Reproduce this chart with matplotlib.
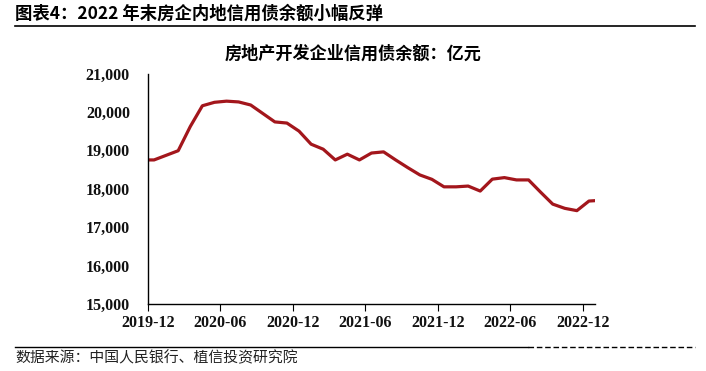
import matplotlib
matplotlib.use("Agg")
import matplotlib.pyplot as plt
from matplotlib.lines import Line2D

plt.rcParams['font.family'] = ['Liberation Serif', 'Noto Sans CJK SC', 'DejaVu Sans']

months = ["2019-11", "2019-12", "2020-01", "2020-02", "2020-03", "2020-04", "2020-05",
          "2020-06", "2020-07", "2020-08", "2020-09", "2020-10", "2020-11", "2020-12",
          "2021-01", "2021-02", "2021-03", "2021-04", "2021-05", "2021-06", "2021-07",
          "2021-08", "2021-09", "2021-10", "2021-11", "2021-12", "2022-01", "2022-02",
          "2022-03", "2022-04", "2022-05", "2022-06", "2022-07", "2022-08", "2022-09",
          "2022-10", "2022-11", "2022-12", "2023-01"]
values = [18750, 18750, 18870, 18990, 19620, 20160, 20250, 20280, 20260, 20180,
          19960, 19740, 19710, 19500, 19160, 19030, 18750, 18900, 18750, 18930,
          18960, 18750, 18550, 18360, 18245, 18050, 18050, 18070, 17940, 18250,
          18290, 18230, 18230, 17910, 17600, 17490, 17430, 17680, 17700]
tick_labels = ["2019-12", "2020-06", "2020-12", "2021-06", "2021-12", "2022-06", "2022-12"]
y_ticks = [15000, 16000, 17000, 18000, 19000, 20000, 21000]

title = "图表4：2022 年末房企内地信用债余额小幅反弹"
subtitle = "房地产开发企业信用债余额：亿元"
source = "数据来源：中国人民银行、植信投资研究院"

W, H = 706, 371
fig = plt.figure(figsize=(W / 100, H / 100), dpi=100)
ax = fig.add_axes([148 / W, 1 - 304 / H, (595 - 148) / W, (304 - 73.5) / H])

x = [i - 0.5 for i in range(len(months))]
ax.plot(x, values, color="#A3161C", lw=2.3, solid_joinstyle="round")

ax.set_xlim(0, 37)
ax.set_ylim(15000, 21000)
tick_pos = [months.index(m) - 0.5 - 0.5 for m in tick_labels]
ax.set_xticks(tick_pos)
ax.set_xticklabels(tick_labels, fontsize=11.5, color="#111111", fontweight="bold")
ax.set_yticks(y_ticks)
ax.set_yticklabels([f"{v:,}" for v in y_ticks], fontsize=11.5, color="#111111", fontweight="bold")
ax.tick_params(axis='x', direction='out', length=5, width=0.8, pad=3)
ax.tick_params(axis='y', length=0, pad=13)
for s in ["top", "right"]:
    ax.spines[s].set_visible(False)
for s in ["left", "bottom"]:
    ax.spines[s].set_linewidth(1.0)
    ax.spines[s].set_color("black")

cjk = ['Noto Sans CJK SC', 'DejaVu Sans']
fig.text(15 / W, 1 - 14 / H, title, fontsize=12.5, fontweight="bold",
         family=cjk, va="center", ha="left")
fig.add_artist(Line2D([15 / W, 695 / W], [1 - 25.5 / H, 1 - 25.5 / H], color="black", lw=1.2))
fig.text(353 / W, 1 - 54 / H, subtitle, fontsize=12.3, fontweight="bold",
         family=cjk, va="center", ha="center")
fig.add_artist(Line2D([15 / W, 528 / W], [1 - 346.5 / H, 1 - 346.5 / H], color="black", lw=1.0))
fig.add_artist(Line2D([528 / W, 695 / W], [1 - 346.5 / H, 1 - 346.5 / H], color="black", lw=1.0,
                      linestyle=(0, (4, 2))))
fig.text(15 / W, 1 - 358 / H, source, fontsize=10.7,
         family=cjk, va="center", ha="left", color="#222222")

fig.savefig("out.png", dpi=100)
